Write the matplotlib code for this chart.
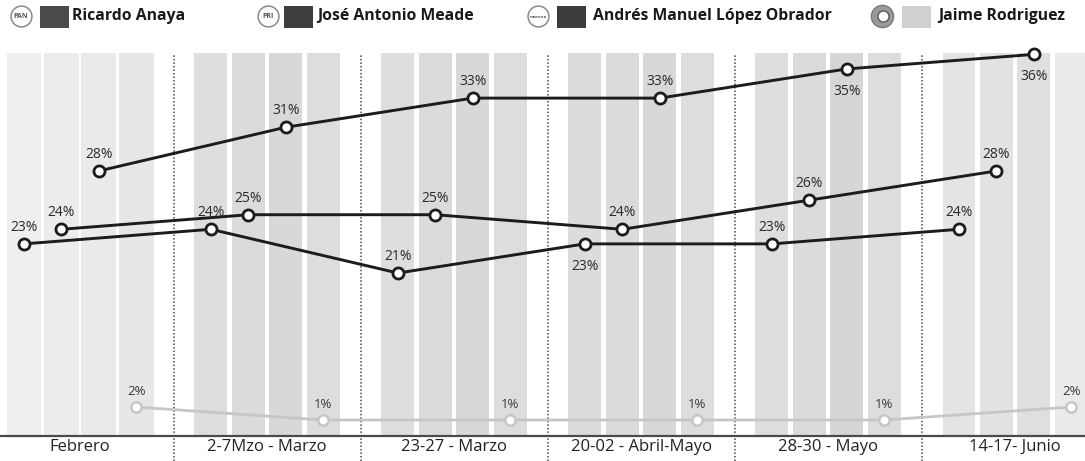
import matplotlib
matplotlib.use("Agg")
import matplotlib.pyplot as plt
from matplotlib.patches import Rectangle
from matplotlib.lines import Line2D
import numpy as np

# ---------------- data ----------------
periods = ["Febrero", "2-7Mzo - Marzo", "23-27 - Marzo", "20-02 - Abril-Mayo",
           "28-30 - Mayo", "14-17- Junio"]
candidates = ["Ricardo Anaya", "José Antonio Meade",
              "Andrés Manuel López Obrador", "Jaime Rodriguez"]
anaya = [23, 24, 21, 23, 23, 24]
meade = [24, 25, 25, 24, 26, 28]
amlo = [28, 31, 33, 33, 35, 36]
jaime = [2, 1, 1, 1, 1, 2]

# ---------------- style ----------------
W, H = 1085, 461
DPI = 100
fig = plt.figure(figsize=(W / DPI, H / DPI), dpi=DPI)
FONT = "Open Sans"

ax_top_px, ax_bot_px = 50, 436
ax = fig.add_axes([0, (H - ax_bot_px) / H, 1, (ax_bot_px - ax_top_px) / H])
ax2 = ax.twinx()
ax.set_xlim(-0.128, 5.674)
ax.set_ylim(9.82, 36.30)
ax2.set_ylim(-0.23, 29.46)
ax.set_zorder(1)
ax2.set_zorder(2)
ax.patch.set_visible(False)
ax2.patch.set_visible(False)

step = 0.2
ngroups = len(periods)
group_x = np.arange(ngroups)
widths = [0.186, 0.176, 0.176, 0.176, 0.176, 0.176]

bar_colors = [
    ["#efefef", "#ececec", "#eaeaea", "#e7e7e7"],
    ["#dedede", "#dbdbdb", "#d8d8d8", "#dddddd"],
    ["#dedede", "#dbdbdb", "#d8d8d8", "#dddddd"],
    ["#dcdcdc", "#dbdbdb", "#d8d8d8", "#dddddd"],
    ["#dedede", "#dbdbdb", "#d6d6d6", "#dddddd"],
    ["#e4e4e4", "#e2e2e2", "#dfdfdf", "#ebebeb"],
]
bar_top = (ax_bot_px - 53) / (ax_bot_px - ax_top_px)
for g in range(ngroups):
    for j in range(4):
        ax.bar(group_x[g] + j * step, bar_top, width=widths[g], bottom=0,
               color=bar_colors[g][j], transform=ax.get_xaxis_transform(),
               zorder=0, linewidth=0)

# dividers
for g in range(ngroups - 1):
    ax.axvline(group_x[g] + 0.8, ymin=(ax_bot_px - 461) / 386,
               ymax=(ax_bot_px - 55) / 386, color="#4a4a4a", lw=1.1,
               linestyle=(0, (1, 1.3)), clip_on=False, zorder=1)

# baseline
ax.axhline(ax.get_ylim()[0], color="#4a4a4a", lw=1.6, zorder=2, clip_on=False)

series = [anaya, meade, amlo]
below = {(0, 3), (2, 4), (2, 5)}
for s, vals in enumerate(series):
    xs = group_x + s * step
    ax.plot(xs, vals, color="#1c1c1c", lw=2.1, marker="o", markersize=8,
            markerfacecolor="white", markeredgecolor="#1c1c1c",
            markeredgewidth=2.0, zorder=5, clip_on=False)
    for g, v in enumerate(vals):
        dy = -16 if (s, g) in below else 12
        ax.annotate(f"{v}%", (xs[g], v), xytext=(0, dy),
                    textcoords="offset points", ha="center", va="center",
                    fontsize=10, family=FONT, color="#2a2a2a", zorder=6)

xs = group_x + 3 * step
ax2.plot(xs, jaime, color="#c6c6c6", lw=2.0, marker="o", markersize=7.5,
         markerfacecolor="white", markeredgecolor="#c6c6c6",
         markeredgewidth=1.8, zorder=5, clip_on=False)
for g, v in enumerate(jaime):
    ax2.annotate(f"{v}%", (xs[g], v), xytext=(0, 11),
                 textcoords="offset points", ha="center", va="center",
                 fontsize=9.5, family=FONT, color="#3a3a3a", zorder=6)

# x tick labels
ax.set_xticks(group_x + 1.5 * step)
ax.set_xticklabels(periods, family=FONT, fontsize=12, color="#222222")
ax.tick_params(axis="x", length=0, pad=2)
ax.set_yticks([])
for sp in ax.spines.values():
    sp.set_visible(False)
ax2.set_yticks([])
for sp in ax2.spines.values():
    sp.set_visible(False)

# ---------------- legend (top) ----------------
def fx(px):
    return px / W

def fy(py):
    return 1 - py / H

swatch_colors = ["#4a4a4a", "#3e3e3e", "#3c3c3c", "#d0d0d0"]
logo_cx = [21, 268, 538, 882]
swatch_x = [40, 284, 557, 902]
text_x = [72, 317, 593, 938]
logo_txt = ["PAN", "PRI", "morena", ""]
for i, name in enumerate(candidates):
    if i < 3:
        fig.add_artist(Line2D([fx(logo_cx[i])], [fy(16)], marker="o",
                              markersize=15, markerfacecolor="white",
                              markeredgecolor="#8a8a8a", markeredgewidth=1.1,
                              transform=fig.transFigure))
        fig.text(fx(logo_cx[i]), fy(16.5), logo_txt[i], ha="center", va="center",
                 fontsize=5 if i < 2 else 3.2, family=FONT, color="#555555",
                 fontweight="bold")
    else:
        fig.add_artist(Line2D([fx(logo_cx[i])], [fy(16)], marker="o",
                              markersize=16, markerfacecolor="#9a9a9a",
                              markeredgecolor="#7a7a7a", markeredgewidth=1.0,
                              transform=fig.transFigure))
        fig.add_artist(Line2D([fx(logo_cx[i] + 1)], [fy(16)], marker="o",
                              markersize=8, markerfacecolor="white",
                              markeredgecolor="#555555", markeredgewidth=1.0,
                              transform=fig.transFigure))
    fig.patches.append(Rectangle((fx(swatch_x[i]), fy(28)), fx(29), 22 / H,
                                 transform=fig.transFigure,
                                 facecolor=swatch_colors[i], edgecolor="none"))
    fig.text(fx(text_x[i]), fy(16), name, ha="left", va="center",
             fontsize=11.3, family=FONT, fontweight="bold", color="#1a1a1a")

fig.savefig("out.png", dpi=DPI, facecolor="white")
